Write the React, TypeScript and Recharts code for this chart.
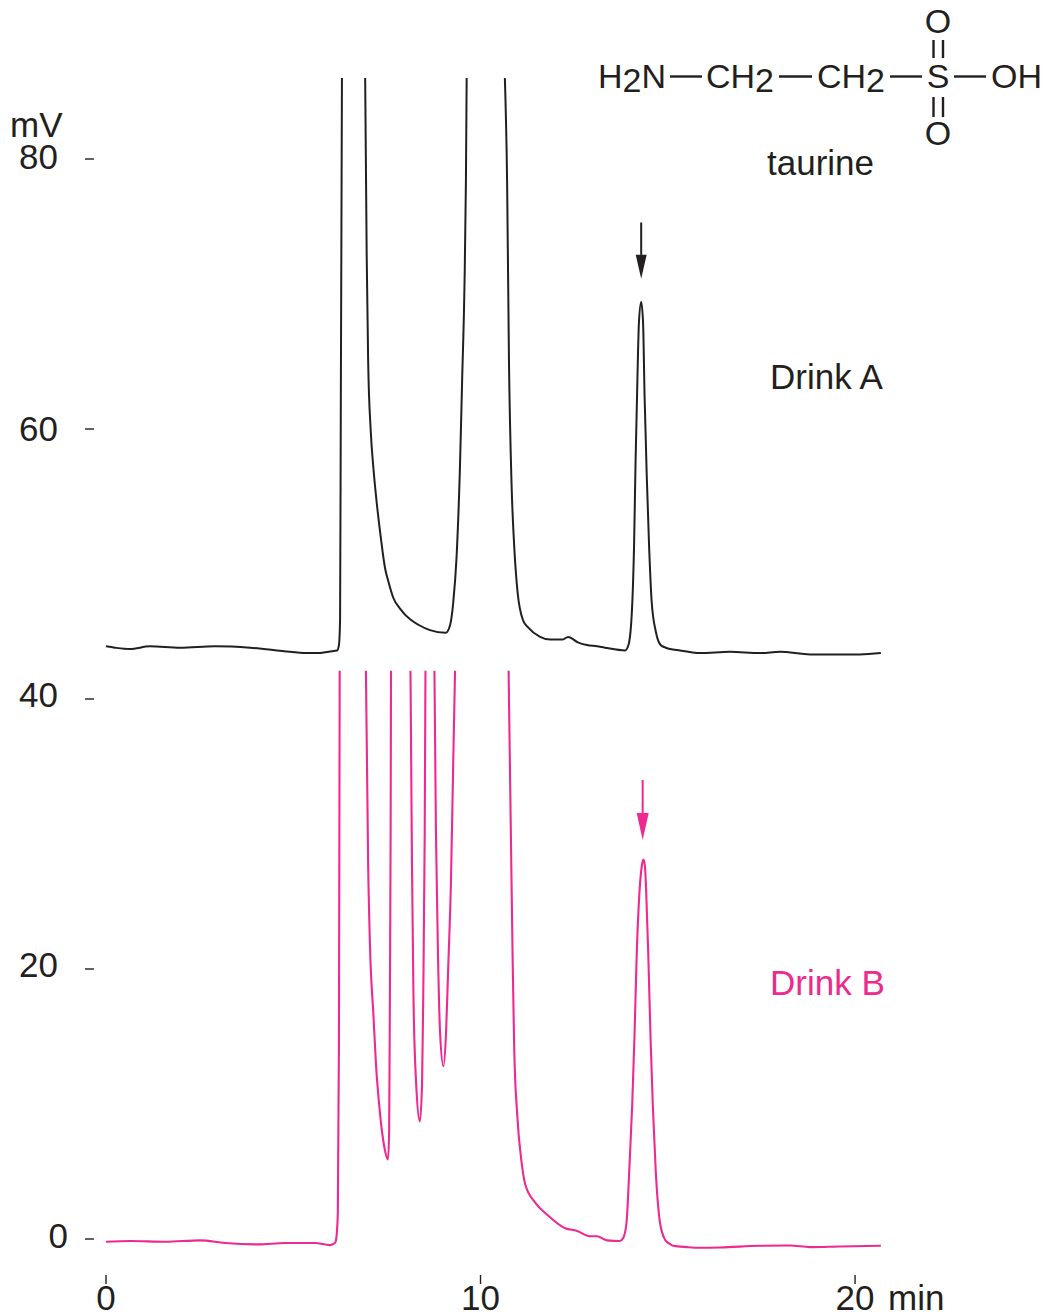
import { LineChart, Line, XAxis, YAxis, ReferenceLine, ReferenceDot } from "recharts";

const INK = "#231f20";
const PINK = "#ec2a8f";
const FONT = "'Liberation Sans', Arial, sans-serif";

const xTicks = [0, 10, 20];
const yTicks = [0, 20, 40, 60, 80];

// retention time (min) and signal (mV); null breaks the trace where a peak runs off scale
const timesA = [
  0, 0.24, 0.64, 1.17, 1.98, 2.91, 3.85, 4.91, 5.45, 6.17, 6.22, 6.25, 6.27, 6.3, 6.6, 6.92, 6.96, 7, 7.07, 7.14, 7.23,
  7.34, 7.45, 7.54, 7.67, 7.85, 8.12, 8.34, 8.65, 9.07, 9.19, 9.27, 9.36, 9.45, 9.51, 9.57, 9.61, 9.63, 10.1, 10.65,
  10.71, 10.76, 10.83, 10.9, 10.99, 11.14, 11.27, 11.59, 11.86, 12.18, 12.34, 12.6, 12.84, 13.11, 13.32, 13.86,
  13.95, 14.04, 14.1, 14.14, 14.19, 14.23, 14.29, 14.34, 14.38, 14.44, 14.5, 14.57, 14.68, 14.81, 14.95, 15.06, 15.33,
  15.86, 16.66, 17.46, 18, 18.8, 19.6, 20.13, 20.69,
];
const valuesA = [
  43.9, 43.8, 43.7, 43.9, 43.8, 43.9, 43.8, 43.5, 43.4, 43.6, 44, 45.9, 62.1, 86, null, 86, 73, 65, 59.8, 57.1, 54.5,
  51.9, 49.7, 48.7, 47.5, 46.7, 45.9, 45.5, 45.1, 44.9, 45.5, 47.1, 50.5, 57.1, 63.7, 70.4, 78.3, 86, null, 86,
  78.3, 65, 55.8, 51.3, 47.9, 45.8, 45.3, 44.6, 44.4, 44.4, 44.6, 44.2, 44, 43.9, 43.8, 43.6,
  44, 46.4, 51.4, 57.6, 63.8, 67.9, 69.4, 67.9, 62.5, 56.4, 51.4, 47.2, 45, 44, 43.8, 43.7, 43.6,
  43.4, 43.5, 43.4, 43.5, 43.3, 43.3, 43.3, 43.4,
];

const timesB = [
  0, 0.64, 1.58, 2.51, 3.18, 4.06, 4.78, 5.58, 5.98, 6.11, 6.14, 6.19, 6.22, 6.24, 6.6, 6.94, 7, 7.05, 7.14, 7.21,
  7.32, 7.42, 7.53, 7.56, 7.58, 7.6, 7.61, 7.9, 8.13, 8.17, 8.21, 8.28, 8.38, 8.44, 8.47, 8.51, 8.53, 8.65, 8.77,
  8.81, 8.87, 8.92, 9.01, 9.08, 9.14, 9.21, 9.27, 9.32, 10, 10.75, 10.81, 10.86, 10.9, 10.98, 11.1, 11.19, 11.46,
  11.78, 12.26, 12.58, 12.92, 13.11, 13.38, 13.72, 13.81, 13.9, 13.97, 14.05, 14.11, 14.17, 14.24, 14.3, 14.35, 14.39,
  14.42, 14.48, 14.54, 14.6, 14.68, 14.79, 14.93, 15.06, 15.14, 15.51, 15.86, 16.4, 17.46, 18.26, 18.8, 19.6, 20.69,
];
const valuesB = [
  -0.2, -0.15, -0.2, -0.1, -0.3, -0.4, -0.3, -0.3, -0.45, -0.3, -0.1, 1.9, 14.7, 42.1, null, 42.1, 27.7, 21.6, 16.6, 12.9,
  9.2, 7, 5.9, 7.9, 17.9, 30.1, 42.1, null, 42.1, 27.7, 17.9, 11.6, 8.7, 11.6, 17.9, 30.1, 42.1, null, 42.1,
  30.1, 20.3, 15.3, 12.8, 15.3, 20.3, 26.4, 35.1, 42.1, null, 42.1, 30.1, 20.3, 14.1, 9.2, 5.6, 4.1, 2.7,
  1.8, 0.8, 0.6, 0.2, 0.2, -0.1, -0.15, 0.07, 1.26, 4.96, 9.93, 14.9, 21, 25.5, 27.5, 28.1, 27.6,
  26, 21, 14.9, 9.93, 4.96, 1.26, -0.07, -0.37, -0.5, -0.6, -0.65, -0.63, -0.5, -0.48, -0.6, -0.55, -0.5,
];

const pointsA = timesA.map((t, i) => ({ t, v: valuesA[i] }));
const pointsB = timesB.map((t, i) => ({ t, v: valuesB[i] }));

// arrows above the taurine peaks: time, shaft top, head base (mV)
const arrowA = { t: 14.29, top: 75.3, base: 72.9 };
const arrowB = { t: 14.33, top: 34, base: 31.55 };

// the tick labels do not sit quite level with their dashes in the original
const yLabelOffset: Record<number, { dx: number; dy: number }> = {
  0: { dx: 10, dy: 9 },
  20: { dx: 0, dy: 8 },
  40: { dx: 0, dy: 8 },
  60: { dx: 0, dy: 12 },
  80: { dx: 0, dy: 10 },
};

function XTick({ x, y, payload }: any) {
  return (
    <g>
      <line x1={x} x2={x} y1={y + 1} y2={y + 10} stroke={INK} strokeWidth={1.4} />
      <text x={x} y={1310} textAnchor="middle" fontSize={35} fontFamily={FONT} fill={INK}>
        {payload.value}
      </text>
    </g>
  );
}

function YTick({ y, payload }: any) {
  const off = yLabelOffset[payload.value];
  return (
    <g>
      <line x1={85} x2={94} y1={y} y2={y} stroke={INK} strokeWidth={1.4} />
      <text x={58 + off.dx} y={y + off.dy} textAnchor="end" fontSize={35} fontFamily={FONT} fill={INK}>
        {payload.value}
      </text>
    </g>
  );
}

function ArrowHead({ cx, cy, color, half, len }: any) {
  return <path d={`M${cx - half},${cy} L${cx + half},${cy} L${cx},${cy + len} Z`} fill={color} />;
}

function Taurine() {
  const label = { fontSize: 34, fontFamily: FONT, fill: INK };
  const bond = { stroke: INK, strokeWidth: 2.4 };
  return (
    <g>
      <text x={598} y={88} {...label}>
        H<tspan dy={4}>2</tspan>
        <tspan dy={-4}>N</tspan>
      </text>
      <line x1={670} x2={702} y1={76.5} y2={76.5} {...bond} />
      <text x={706} y={88} {...label}>
        CH<tspan dy={4}>2</tspan>
      </text>
      <line x1={779} x2={812} y1={76.5} y2={76.5} {...bond} />
      <text x={817} y={88} {...label}>
        CH<tspan dy={4}>2</tspan>
      </text>
      <line x1={890} x2={922} y1={76.5} y2={76.5} {...bond} />
      <text x={938} y={88} textAnchor="middle" {...label}>
        S
      </text>
      <line x1={954} x2={986} y1={76.5} y2={76.5} {...bond} />
      <text x={991} y={88} {...label}>
        OH
      </text>
      <text x={938} y={33} textAnchor="middle" {...label}>
        O
      </text>
      <text x={938} y={145} textAnchor="middle" {...label}>
        O
      </text>
      <line x1={933.5} x2={933.5} y1={40} y2={58} {...bond} />
      <line x1={943} x2={943} y1={40} y2={58} {...bond} />
      <line x1={933.5} x2={933.5} y1={97} y2={117} {...bond} />
      <line x1={943} x2={943} y1={97} y2={117} {...bond} />
      <text x={767} y={175} fontSize={35} fontFamily={FONT} fill={INK}>
        taurine
      </text>
    </g>
  );
}

export default function App() {
  return (
    <div style={{ position: "absolute", left: 0, top: 0, width: 1050, height: 1315, background: "#fff" }}>
      <LineChart width={1050} height={1315} margin={{ top: 51, right: 165, bottom: 0, left: 0 }}>
        <XAxis
          type="number"
          dataKey="t"
          domain={[0, 20.8]}
          ticks={xTicks}
          axisLine={false}
          tickLine={false}
          height={49}
          tick={<XTick />}
          allowDuplicatedCategory={false}
        />
        <YAxis
          type="number"
          dataKey="v"
          domain={[-2, 88]}
          ticks={yTicks}
          axisLine={false}
          tickLine={false}
          width={106}
          tick={<YTick />}
          interval={0}
        />
        <Line
          data={pointsA}
          dataKey="v"
          type="monotone"
          stroke={INK}
          strokeWidth={2}
          dot={false}
          activeDot={false}
          connectNulls={false}
          isAnimationActive={false}
        />
        <Line
          data={pointsB}
          dataKey="v"
          type="monotone"
          stroke={PINK}
          strokeWidth={2.1}
          dot={false}
          activeDot={false}
          connectNulls={false}
          isAnimationActive={false}
        />
        <ReferenceLine
          segment={[
            { x: arrowA.t, y: arrowA.top },
            { x: arrowA.t, y: arrowA.base },
          ]}
          stroke={INK}
          strokeWidth={2}
        />
        <ReferenceDot
          x={arrowA.t}
          y={arrowA.base}
          shape={(p: any) => <ArrowHead {...p} color={INK} half={5.5} len={24} />}
        />
        <ReferenceLine
          segment={[
            { x: arrowB.t, y: arrowB.top },
            { x: arrowB.t, y: arrowB.base },
          ]}
          stroke={PINK}
          strokeWidth={2}
        />
        <ReferenceDot
          x={arrowB.t}
          y={arrowB.base}
          shape={(p: any) => <ArrowHead {...p} color={PINK} half={6} len={27} />}
        />
        <text x={10} y={137} fontSize={35} fontFamily={FONT} fill={INK}>
          mV
        </text>
        <text x={888} y={1310} fontSize={35} fontFamily={FONT} fill={INK}>
          min
        </text>
        <text x={770} y={389} fontSize={35} fontFamily={FONT} fill={INK}>
          Drink A
        </text>
        <text x={770} y={995} fontSize={35} fontFamily={FONT} fill={PINK}>
          Drink B
        </text>
        <Taurine />
      </LineChart>
    </div>
  );
}
